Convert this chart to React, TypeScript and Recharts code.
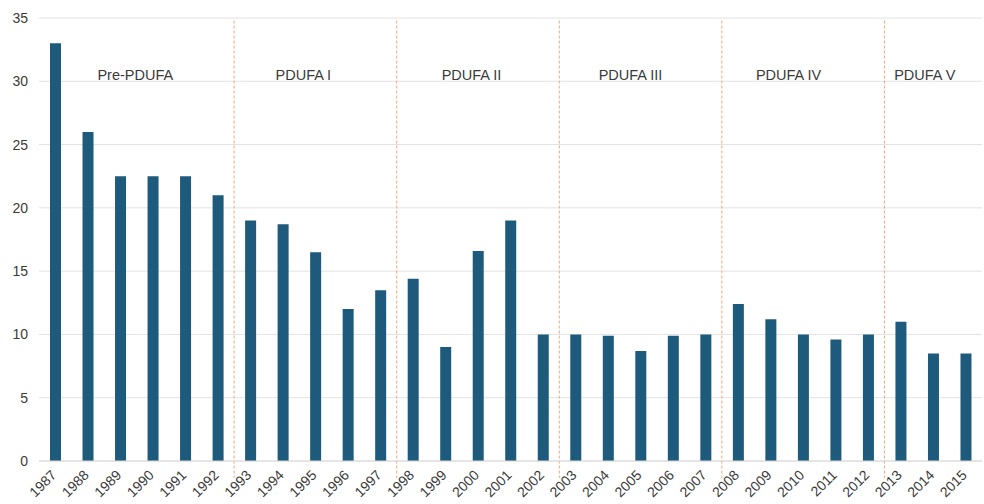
import React from 'react';
import { BarChart, Bar, XAxis, YAxis, CartesianGrid, ReferenceLine, ReferenceDot } from 'recharts';

const years = ['1987','1988','1989','1990','1991','1992','1993','1994','1995','1996','1997','1998','1999','2000','2001','2002','2003','2004','2005','2006','2007','2008','2009','2010','2011','2012','2013','2014','2015'];
const values = [33,26,22.5,22.5,22.5,21,19,18.7,16.5,12,13.5,14.4,9,16.6,19,10,10,9.9,8.7,9.9,10,12.4,11.2,10,9.6,10,11,8.5,8.5];
const eraNames = ['Pre-PDUFA','PDUFA I','PDUFA II','PDUFA III','PDUFA IV','PDUFA V'];
const eraLabelPos = [2.46, 7.63, 12.8, 17.69, 22.55, 26.74];
const eraBoundaries = [5.5, 10.5, 15.5, 20.5, 25.5];
const yTicks = [0,5,10,15,20,25,30,35];

const data = years.map((y, i) => ({ i, v: values[i] }));
const FONT = '"Liberation Sans", Arial, sans-serif';
const TEXT = '#3a3a3a';

const XTick = (props: any) => {
  const { x, y, payload } = props;
  const ax = x + 2;
  const ay = y + 7;
  return (
    <text x={ax} y={ay} transform={`rotate(-45, ${ax}, ${ay})`} textAnchor="end" fontSize={14} fill={TEXT} fontFamily={FONT}>
      {years[payload.value]}
    </text>
  );
};

export default function App() {
  return (
    <div style={{ position: 'absolute', left: 0, top: 0, width: 984, height: 504, background: '#fff' }}>
      <BarChart width={984} height={504} data={data} margin={{ top: 18, right: 2, left: 0, bottom: 0 }} style={{ fontFamily: FONT }}>
        <CartesianGrid horizontal vertical={false} stroke="#e2e2e2" />
        <XAxis
          dataKey="i"
          type="number"
          domain={[-0.5, 28.5]}
          ticks={years.map((_, i) => i)}
          interval={0}
          height={43}
          tickLine={false}
          axisLine={{ stroke: '#d9d9d9' }}
          tick={<XTick />}
        />
        <YAxis
          width={39}
          domain={[0, 35]}
          ticks={yTicks}
          interval={0}
          axisLine={false}
          tickLine={false}
          tickMargin={5}
          tick={{ fontSize: 14, fill: TEXT, fontFamily: FONT }}
        />
        {eraBoundaries.map((b) => (
          <ReferenceLine
            key={b}
            segment={[{ x: b, y: 34.8 }, { x: b, y: -1.34 }]}
            ifOverflow="visible"
            stroke="#f2a67a"
            strokeWidth={1}
            strokeDasharray="3 2"
          />
        ))}
        {eraNames.map((n, k) => (
          <ReferenceDot
            key={n}
            x={eraLabelPos[k]}
            y={30.5}
            r={0}
            fill="none"
            stroke="none"
            ifOverflow="visible"
            label={{ value: n, position: 'center', fontSize: 14.5, fill: TEXT, fontFamily: FONT }}
          />
        ))}
        <Bar dataKey="v" fill="#1d5a7b" barSize={11} isAnimationActive={false} />
      </BarChart>
    </div>
  );
}
